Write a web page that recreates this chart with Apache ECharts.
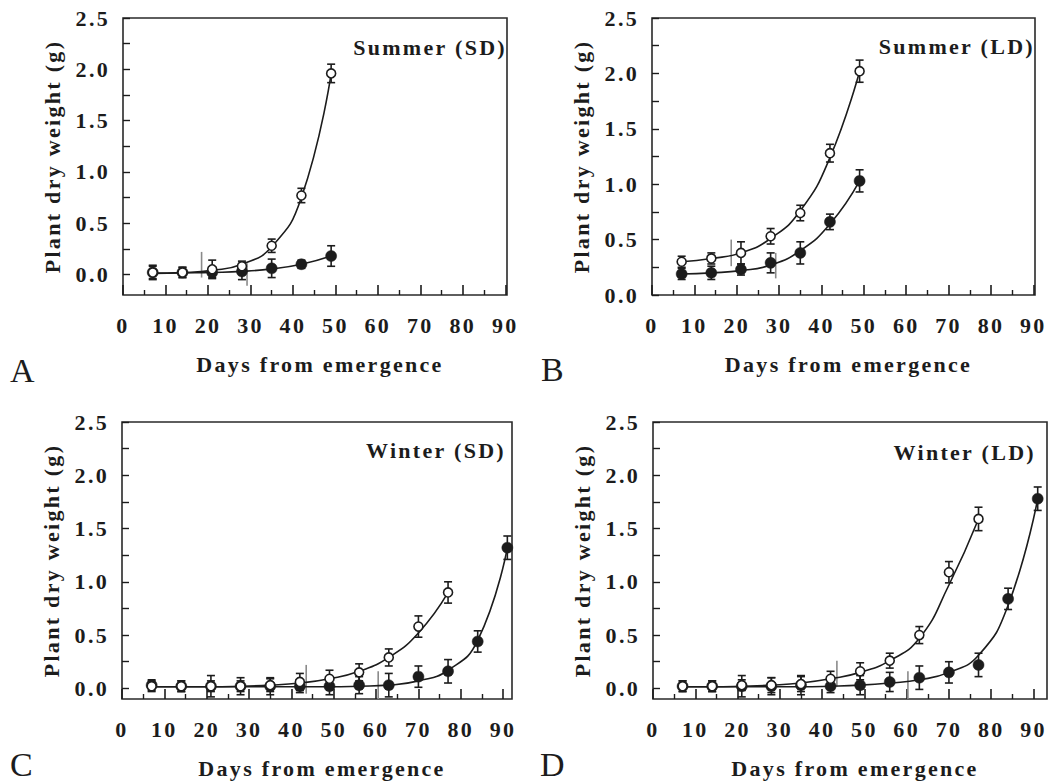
<!DOCTYPE html>
<html>
<head>
<meta charset="utf-8">
<script src="https://cdn.jsdelivr.net/npm/echarts@6/dist/echarts.min.js"></script>
<style>
  html, body { margin: 0; padding: 0; background: #fff; }
  #chart { width: 1051px; height: 784px; }
  #chart text { letter-spacing: 2.3px; }
</style>
</head>
<body>
<div id="chart"></div>
<script>
// ---------------- data ----------------
const daysSummer = [7, 14, 21, 28, 35, 42, 49];
const daysWinterOpen = [7, 14, 21, 28, 35, 42, 49, 56, 63, 70, 77];
const daysWinterFilled = [7, 14, 21, 28, 35, 42, 49, 56, 63, 70, 77, 84, 91];

const xTicks = [0, 10, 20, 30, 40, 50, 60, 70, 80, 90];
const xMinorTicks = [5, 15, 25, 35, 45, 55, 65, 75, 85];
const yTicks = [0, 0.25, 0.5, 0.75, 1, 1.25, 1.5, 1.75, 2, 2.25, 2.5];
const yLabels = [0, 0.5, 1, 1.5, 2, 2.5];

const panelTitles = ['Summer (SD)', 'Summer (LD)', 'Winter (SD)', 'Winter (LD)'];
const panelLetters = ['A', 'B', 'C', 'D'];
const xTitle = 'Days from emergence';
const yTitle = 'Plant dry weight (g)';

// Panel A: Summer (SD)
const aOpen = [0.02, 0.02, 0.05, 0.08, 0.28, 0.77, 1.96];
const aOpenErr = [0.06, 0.05, 0.09, 0.05, 0.065, 0.07, 0.09];
const aOpenFit = [0.015, 0.02, 0.04, 0.10, 0.27, 0.75, 1.96];
const aFilled = [0.02, 0.02, 0.02, 0.03, 0.06, 0.10, 0.18];
const aFilledErr = [0.07, 0.05, 0.05, 0.08, 0.09, 0.04, 0.10];
const aFilledFit = [0.01, 0.015, 0.02, 0.03, 0.055, 0.10, 0.18];
const aMarks = [[18.5, -0.03, 0.22], [29.2, -0.11, 0.11]];

// Panel B: Summer (LD)
const bOpen = [0.30, 0.33, 0.38, 0.53, 0.74, 1.28, 2.02];
const bOpenErr = [0.05, 0.05, 0.10, 0.07, 0.07, 0.08, 0.10];
const bOpenFit = [0.30, 0.33, 0.38, 0.51, 0.76, 1.24, 2.02];
const bFilled = [0.19, 0.20, 0.23, 0.29, 0.38, 0.66, 1.03];
const bFilledErr = [0.05, 0.06, 0.05, 0.09, 0.10, 0.07, 0.10];
const bFilledFit = [0.19, 0.20, 0.22, 0.27, 0.40, 0.64, 1.03];
const bMarks = [[18.7, 0.26, 0.50], [29.2, 0.15, 0.38]];

// Panel C: Winter (SD)
const cOpen = [0.02, 0.02, 0.02, 0.02, 0.03, 0.06, 0.09, 0.15, 0.29, 0.58, 0.90];
const cOpenErr = [0.05, 0.05, 0.05, 0.05, 0.06, 0.08, 0.08, 0.08, 0.08, 0.10, 0.10];
const cOpenFit = [0.015, 0.015, 0.015, 0.02, 0.03, 0.05, 0.09, 0.16, 0.29, 0.52, 0.90];
const cFilled = [0.03, 0.02, 0.02, 0.02, 0.02, 0.02, 0.02, 0.03, 0.03, 0.11, 0.16, 0.44, 1.32];
const cFilledErr = [0.05, 0.05, 0.10, 0.08, 0.08, 0.06, 0.08, 0.08, 0.11, 0.10, 0.11, 0.10, 0.11];
const cFilledFit = [0.015, 0.015, 0.015, 0.015, 0.015, 0.015, 0.015, 0.02, 0.03, 0.07, 0.17, 0.45, 1.32];
const cMarks = [[43.5, -0.05, 0.22], [60.5, -0.10, 0.16]];

// Panel D: Winter (LD)
const dOpen = [0.02, 0.02, 0.03, 0.03, 0.04, 0.09, 0.16, 0.26, 0.50, 1.09, 1.59];
const dOpenErr = [0.05, 0.05, 0.05, 0.07, 0.07, 0.07, 0.08, 0.07, 0.08, 0.10, 0.11];
const dOpenFit = [0.015, 0.015, 0.02, 0.03, 0.05, 0.09, 0.15, 0.26, 0.47, 0.97, 1.59];
const dFilled = [0.02, 0.02, 0.02, 0.02, 0.03, 0.02, 0.03, 0.06, 0.10, 0.15, 0.22, 0.84, 1.78];
const dFilledErr = [0.05, 0.05, 0.10, 0.08, 0.09, 0.06, 0.09, 0.09, 0.11, 0.10, 0.11, 0.10, 0.11];
const dFilledFit = [0.015, 0.015, 0.015, 0.015, 0.015, 0.02, 0.03, 0.05, 0.08, 0.15, 0.31, 0.78, 1.78];
const dMarks = [[43.5, 0.02, 0.26], [60.3, -0.10, 0.16]];

// ---------------- build ----------------
const INK = '#1c1c1c';
const FONT = 'Liberation Serif';

const panels = [
  { grid: { left: 123, top: 18, width: 384, height: 277 }, xMax: 90.4, yMin: -0.2,
    openX: daysSummer, open: aOpen, openErr: aOpenErr, openFit: aOpenFit,
    filledX: daysSummer, filled: aFilled, filledErr: aFilledErr, filledFit: aFilledFit, marks: aMarks,
    titlePos: [507, 47], letterPos: [10, 370] },
  { grid: { left: 652, top: 18, width: 383, height: 277 }, xMax: 90.4, yMin: 0,
    openX: daysSummer, open: bOpen, openErr: bOpenErr, openFit: bOpenFit,
    filledX: daysSummer, filled: bFilled, filledErr: bFilledErr, filledFit: bFilledFit, marks: bMarks,
    titlePos: [1035, 46], letterPos: [541, 369] },
  { grid: { left: 122, top: 422, width: 390, height: 277 }, xMax: 92.1, yMin: -0.1,
    openX: daysWinterOpen, open: cOpen, openErr: cOpenErr, openFit: cOpenFit,
    filledX: daysWinterFilled, filled: cFilled, filledErr: cFilledErr, filledFit: cFilledFit, marks: cMarks,
    titlePos: [506, 450], letterPos: [10, 764] },
  { grid: { left: 653, top: 422, width: 394, height: 277 }, xMax: 93.2, yMin: -0.1,
    openX: daysWinterOpen, open: dOpen, openErr: dOpenErr, openFit: dOpenFit,
    filledX: daysWinterFilled, filled: dFilled, filledErr: dFilledErr, filledFit: dFilledFit, marks: dMarks,
    titlePos: [1036, 452], letterPos: [540, 764] }
];

const grids = [], xAxes = [], yAxes = [], series = [], graphics = [];

function errBarSeries(i, xs, ys, errs) {
  return {
    type: 'custom', xAxisIndex: 2 * i, yAxisIndex: i, z: 1, silent: true,
    data: xs.map((x, k) => [x, ys[k] - errs[k], ys[k] + errs[k]]),
    encode: { x: 0, y: [1, 2] },
    renderItem: function (params, api) {
      const x = api.value(0);
      const lo = api.coord([x, api.value(1)]);
      const hi = api.coord([x, api.value(2)]);
      const w = 4;
      const st = { stroke: INK, lineWidth: 1.6 };
      return { type: 'group', children: [
        { type: 'line', shape: { x1: lo[0], y1: lo[1], x2: hi[0], y2: hi[1] }, style: st },
        { type: 'line', shape: { x1: lo[0] - w, y1: lo[1], x2: lo[0] + w, y2: lo[1] }, style: st },
        { type: 'line', shape: { x1: hi[0] - w, y1: hi[1], x2: hi[0] + w, y2: hi[1] }, style: st }
      ]};
    }
  };
}

const labelFont = { color: INK, fontSize: 22, fontWeight: 'bold', fontFamily: FONT };

panels.forEach((p, i) => {
  grids.push(Object.assign({ show: true, borderColor: '#2a2a2a', borderWidth: 1.6, backgroundColor: 'transparent' }, p.grid));

  xAxes.push({
    gridIndex: i, type: 'value', min: 0, max: p.xMax, position: 'bottom',
    axisLine: { show: false, onZero: false }, splitLine: { show: false },
    axisTick: { show: true, inside: true, length: 10, customValues: xTicks, lineStyle: { color: INK, width: 1.6 } },
    axisLabel: Object.assign({ customValues: xTicks, margin: 19 }, labelFont),
    name: xTitle, nameLocation: 'middle', nameGap: 58,
    nameTextStyle: Object.assign({ padding: [0, 0, 0, 10] }, labelFont)
  });
  xAxes.push({
    gridIndex: i, type: 'value', min: 0, max: p.xMax, position: 'bottom',
    axisLine: { show: false, onZero: false }, splitLine: { show: false }, axisLabel: { show: false },
    axisTick: { show: true, inside: true, length: 5, customValues: xMinorTicks, lineStyle: { color: INK, width: 1.4 } }
  });
  yAxes.push({
    gridIndex: i, type: 'value', min: p.yMin, max: 2.5,
    axisLine: { show: false, onZero: false }, splitLine: { show: false },
    axisTick: { show: true, inside: true, length: 7, customValues: yTicks, lineStyle: { color: INK, width: 1.4 } },
    axisLabel: Object.assign({ customValues: yLabels, formatter: v => v.toFixed(1), margin: 13 }, labelFont),
    name: yTitle, nameLocation: 'middle', nameRotate: 90, nameGap: 60,
    nameTextStyle: labelFont
  });

  // gray marker lines
  series.push({
    type: 'custom', xAxisIndex: 2 * i, yAxisIndex: i, z: 1, silent: true,
    data: p.marks, encode: { x: 0, y: [1, 2] },
    renderItem: function (params, api) {
      const x = api.value(0);
      const a = api.coord([x, api.value(1)]);
      const b = api.coord([x, api.value(2)]);
      return { type: 'line', shape: { x1: a[0], y1: a[1], x2: b[0], y2: b[1] }, style: { stroke: '#8a8a8a', lineWidth: 1.6 } };
    }
  });
  // error bars
  series.push(errBarSeries(i, p.filledX, p.filled, p.filledErr));
  series.push(errBarSeries(i, p.openX, p.open, p.openErr));
  // fitted curves
  series.push({
    type: 'line', xAxisIndex: 2 * i, yAxisIndex: i, z: 2, silent: true, smooth: 0.5,
    showSymbol: false, symbol: 'none', data: p.filledX.map((x, k) => [x, p.filledFit[k]]),
    lineStyle: { color: INK, width: 1.6 }
  });
  series.push({
    type: 'line', xAxisIndex: 2 * i, yAxisIndex: i, z: 2, silent: true, smooth: 0.5,
    showSymbol: false, symbol: 'none', data: p.openX.map((x, k) => [x, p.openFit[k]]),
    lineStyle: { color: INK, width: 1.6 }
  });
  // markers
  series.push({
    type: 'scatter', xAxisIndex: 2 * i, yAxisIndex: i, z: 3, silent: true,
    symbol: 'circle', symbolSize: 11,
    data: p.filledX.map((x, k) => [x, p.filled[k]]),
    itemStyle: { color: INK, borderColor: INK, borderWidth: 0.5, opacity: 1 }
  });
  series.push({
    type: 'scatter', xAxisIndex: 2 * i, yAxisIndex: i, z: 4, silent: true,
    symbol: 'circle', symbolSize: 9,
    data: p.openX.map((x, k) => [x, p.open[k]]),
    itemStyle: { color: '#fff', borderColor: INK, borderWidth: 1.6, opacity: 1 }
  });

  graphics.push({
    type: 'text', x: p.titlePos[0], y: p.titlePos[1], z: 10,
    style: { text: panelTitles[i], fill: INK, fontSize: 22, fontWeight: 'bold', fontFamily: FONT, textAlign: 'right', textVerticalAlign: 'middle' }
  });
  graphics.push({
    type: 'text', x: p.letterPos[0], y: p.letterPos[1], z: 10,
    style: { text: panelLetters[i], fill: INK, fontSize: 34, fontFamily: FONT, textAlign: 'left', textVerticalAlign: 'middle' }
  });
});

const chart = echarts.init(document.getElementById('chart'), null, { renderer: 'svg' });
chart.setOption({
  animation: false,
  backgroundColor: '#fff',
  textStyle: { fontFamily: FONT },
  grid: grids,
  xAxis: xAxes,
  yAxis: yAxes,
  series: series,
  graphic: graphics
});
</script>
</body>
</html>
